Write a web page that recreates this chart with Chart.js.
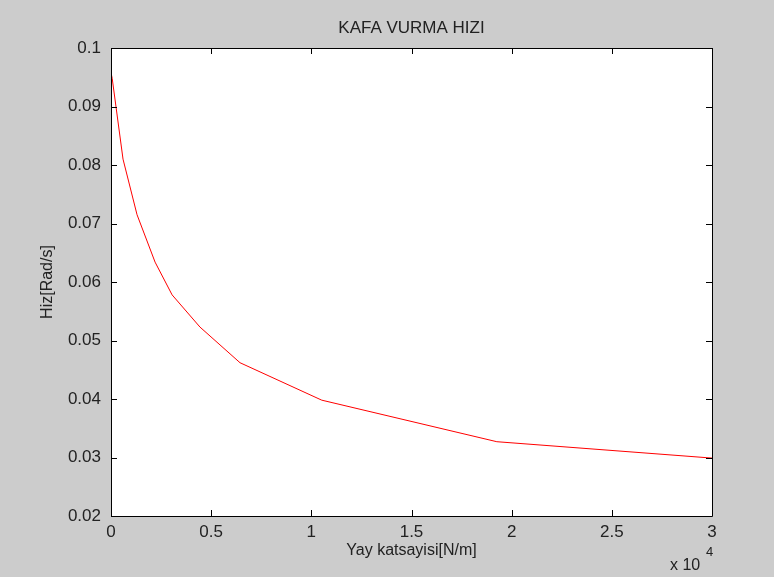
<!DOCTYPE html>
<html>
<head>
<meta charset="utf-8">
<script src="https://cdn.jsdelivr.net/npm/chart.js@4.4.1/dist/chart.umd.min.js"></script>
<style>
  html, body { margin: 0; padding: 0; background: #cccccc; }
  #wrap { width: 774px; height: 577px; }
</style>
</head>
<body>
<div id="wrap"><canvas id="c" width="774" height="577"></canvas></div>
<script>
// data (yay katsayisi N/m -> hiz rad/s)
const springK = [0, 60, 600, 1300, 2200, 3050, 4440, 6440, 10520, 19260, 30000];
const speed = [0.0958, 0.0948, 0.0810, 0.0715, 0.0634, 0.0578, 0.0523, 0.0462, 0.0398, 0.0327, 0.0299];

const titleText = 'KAFA VURMA HIZI';
const xLabel = 'Yay katsayisi[N/m]';
const yLabel = 'Hiz[Rad/s]';
const FONT = '"Liberation Sans", Arial, sans-serif';

// box, inner ticks, title and labels drawn like matlab
const matlabBox = {
  id: 'matlabBox',
  beforeDatasetsDraw(chart) {
    const a = chart.chartArea;
    chart.ctx.save();
    chart.ctx.fillStyle = '#ffffff';
    chart.ctx.fillRect(a.left, a.top, a.right - a.left, a.bottom - a.top);
    chart.ctx.restore();
  },
  afterDraw(chart) {
    const ctx = chart.ctx;
    const a = chart.chartArea;
    const xs = chart.scales.x, ys = chart.scales.y;
    const tl = 6;
    ctx.save();
    ctx.strokeStyle = '#000';
    ctx.lineWidth = 1;
    ctx.beginPath();
    ctx.rect(Math.round(a.left) + 0.5, Math.round(a.top) + 0.5, Math.round(a.right - a.left), Math.round(a.bottom - a.top));
    xs.ticks.forEach(t => {
      const px = Math.round(xs.getPixelForValue(t.value)) + 0.5;
      ctx.moveTo(px, a.bottom); ctx.lineTo(px, a.bottom - tl);
      ctx.moveTo(px, a.top); ctx.lineTo(px, a.top + tl);
    });
    ys.ticks.forEach(t => {
      const py = Math.round(ys.getPixelForValue(t.value)) + 0.5;
      ctx.moveTo(a.left, py); ctx.lineTo(a.left + tl, py);
      ctx.moveTo(a.right, py); ctx.lineTo(a.right - tl, py);
    });
    ctx.stroke();

    ctx.fillStyle = '#222';
    ctx.textAlign = 'center';
    ctx.textBaseline = 'middle';
    ctx.font = '17px ' + FONT;
    ctx.fillText(titleText, (a.left + a.right) / 2, 28);
    ctx.font = '16px ' + FONT;
    ctx.fillText(xLabel, (a.left + a.right) / 2, 551);
    ctx.save();
    ctx.translate(48, (a.top + a.bottom) / 2);
    ctx.rotate(-Math.PI / 2);
    ctx.fillText(yLabel, 0, 0);
    ctx.restore();
    // exponent
    ctx.textAlign = 'left';
    ctx.font = '16px ' + FONT;
    ctx.fillText('x 10', 670, 566);
    ctx.font = '13px ' + FONT;
    ctx.fillText('4', 706, 552);
    ctx.restore();
  }
};

new Chart(document.getElementById('c'), {
  type: 'line',
  data: {
    datasets: [{
      data: springK.map((k, i) => ({ x: k, y: speed[i] })),
      borderColor: '#ff0000',
      borderWidth: 1,
      pointRadius: 0,
      tension: 0,
      fill: false
    }]
  },
  options: {
    responsive: false,
    animation: false,
    layout: { padding: { left: 0, right: 62, top: 48, bottom: 0 } },
    plugins: {
      legend: { display: false },
      tooltip: { enabled: false },
      title: { display: false }
    },
    scales: {
      x: {
        type: 'linear',
        min: 0, max: 30000,
        grid: { display: false, drawTicks: false },
        border: { display: false },
        afterFit: s => { s.height = 61; },
        ticks: {
          stepSize: 5000,
          padding: 6,
          color: '#222',
          font: { family: FONT, size: 17 },
          maxRotation: 0,
          callback: v => String(v / 10000)
        }
      },
      y: {
        min: 0.02, max: 0.1,
        grid: { display: false, drawTicks: false },
        border: { display: false },
        afterFit: s => { s.width = 111; },
        ticks: {
          stepSize: 0.01,
          padding: 10,
          color: '#222',
          font: { family: FONT, size: 17 },
          callback: v => String(Number(v.toFixed(2)))
        }
      }
    }
  },
  plugins: [matlabBox]
});
</script>
</body>
</html>
